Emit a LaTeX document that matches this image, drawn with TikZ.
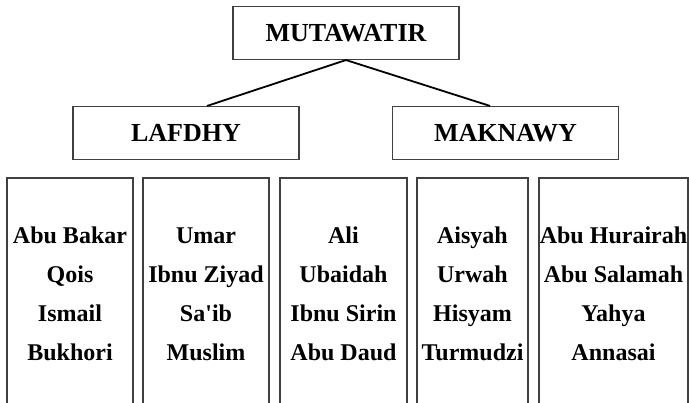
\documentclass[tikz,border=0pt]{standalone}
\usepackage{fontspec}
\setmainfont{Liberation Serif}
\usepackage{tikz}

\begin{document}
\begin{tikzpicture}[x=1pt,y=-1pt,
        kotak/.style={draw=black!75,line width=1.1pt,minimum width=226pt,minimum height=53pt,inner sep=0pt,font=\fontsize{26}{30}\selectfont\bfseries},
        nama/.style={align=center,inner sep=0pt,font=\fontsize{24}{39}\selectfont\bfseries},
        kolom/.style={draw=black!75,line width=1.1pt},
        garis/.style={line width=1.8pt}]
        \useasboundingbox (0,0) rectangle (689,403);
        \node[kotak] (mutawatir) at (346,33) {MUTAWATIR};
        \node[kotak] (lafdhy) at (186,133) {LAFDHY};
        \node[kotak] (maknawy) at (505.5,133) {MAKNAWY};
        \draw[garis] (mutawatir.south) -- ([xshift=21pt]lafdhy.north);
        \draw[garis] (mutawatir.south) -- ([xshift=-15.5pt]maknawy.north);
        % kolom perawi
        \draw[kolom] (7,403) -- (7,178) -- (133,178) -- (133,403);
        \draw[kolom] (143,403) -- (143,178) -- (269,178) -- (269,403);
        \draw[kolom] (280,403) -- (280,178) -- (407,178) -- (407,403);
        \draw[kolom] (417,403) -- (417,178) -- (528,178) -- (528,403);
        \draw[kolom] (539,403) -- (539,178) -- (688,178) -- (688,403);
        \node[nama] (kolom1) at (70,294) {Abu Bakar\\Qois\\Ismail\\Bukhori};
        \node[nama] (kolom2) at (206,294) {Umar\\Ibnu Ziyad\\Sa\textquotesingle ib\\Muslim};
        \node[nama] (kolom3) at (343.5,294) {Ali\\Ubaidah\\Ibnu Sirin\\Abu Daud};
        \node[nama] (kolom4) at (472.5,294) {Aisyah\\Urwah\\Hisyam\\Turmudzi};
        \node[nama] (kolom5) at (613.5,294) {Abu Hurairah\\Abu Salamah\\Yahya\\Annasai};
    \end{tikzpicture}
\end{document}
